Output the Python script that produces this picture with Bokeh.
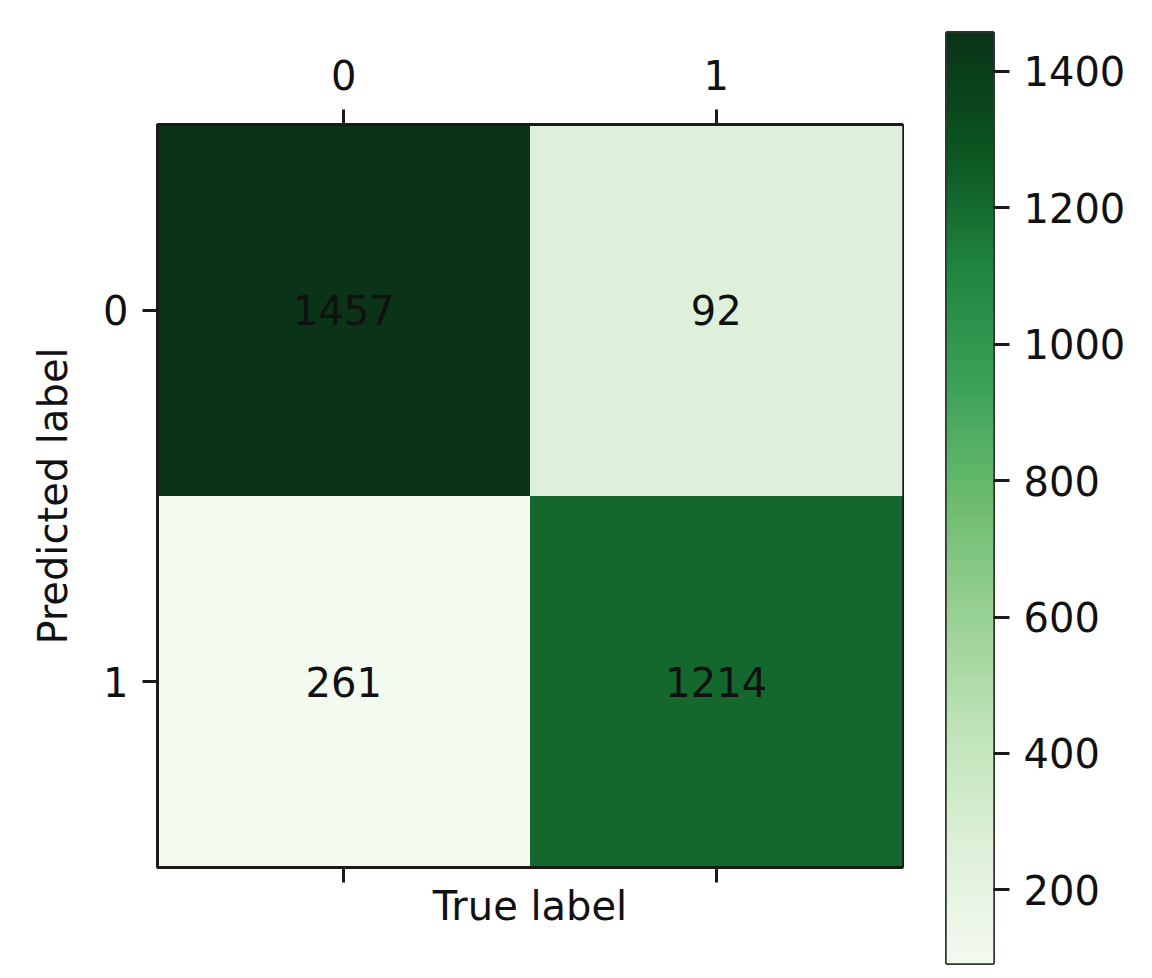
import numpy as np
from bokeh.plotting import figure
from bokeh.layouts import row
from bokeh.models import (ColumnDataSource, LinearColorMapper, LinearAxis, FixedTicker,
                          Range1d)
from bokeh.core.properties import value
from bokeh.embed import file_html
from bokeh.resources import INLINE

# ---- data ----
true_labels = [0, 1]            # columns (x)
pred_labels = [0, 1]            # rows (y)
counts_row0 = [1457, 92]        # numbers written, predicted 0
counts_row1 = [261, 1214]       # numbers written, predicted 1
shade_row0 = [1457, 261]        # values behind the cell colours, row 0
shade_row1 = [92, 1214]         # values behind the cell colours, row 1
cb_ticks = [200, 400, 600, 800, 1000, 1200, 1400]

FONT = "DejaVu Sans"
FS = "40px"
TXT = "#111111"
LINE = "#1a1a1a"

# Greens-like palette tuned to the reference's rendering
anchors = ["#f3faf0", "#ddf0d8", "#bfe3b8", "#98d093", "#6bbb6e",
           "#3aa157", "#20833f", "#0b5520", "#0a3318"]
def _rgb(h):
    return [int(h[i:i + 2], 16) for i in (1, 3, 5)]
A = np.array([_rgb(h) for h in anchors], dtype=float)
pos = np.linspace(0, 1, len(anchors))
tt = np.linspace(0, 1, 256)
pal = ["#%02x%02x%02x" % tuple(int(round(np.interp(t, pos, A[:, k]))) for k in range(3)) for t in tt]

xs, ys, vals, shades = [], [], [], []
for r, rowvals, rowshade in zip(pred_labels, [counts_row0, counts_row1], [shade_row0, shade_row1]):
    for c, v, s in zip(true_labels, rowvals, rowshade):
        xs.append(c); ys.append(r); vals.append(v); shades.append(s)
src = ColumnDataSource(dict(x=xs, y=ys, v=vals, s=shades, t=[str(v) for v in vals]))

low, high = min(shades), max(shades)
mapper = LinearColorMapper(palette=pal, low=low, high=high)

# ---- main matrix ----
p = figure(width=920, height=978, output_backend="svg", toolbar_location=None,
           x_range=Range1d(-0.5, 1.5), y_range=Range1d(1.5, -0.5),
           min_border_left=157, min_border_right=18, min_border_top=124, min_border_bottom=111)
p.frame_align = False
p.rect(x="x", y="y", width=1, height=1, source=src, line_color=None,
       fill_color={"field": "s", "transform": mapper})
p.text(x="x", y="y", text="t", source=src, text_align="center", text_baseline="middle",
       text_font=value(FONT), text_font_size=FS, text_color=TXT)
p.xgrid.visible = False
p.ygrid.visible = False
p.outline_line_color = LINE
p.outline_line_width = 3
p.outline_line_alpha = 1

top = LinearAxis()
p.add_layout(top, "above")

def style(ax):
    ax.ticker = FixedTicker(ticks=true_labels)
    ax.major_tick_out = 15
    ax.major_tick_in = 0
    ax.minor_tick_out = 0
    ax.minor_tick_in = 0
    ax.major_tick_line_width = 3
    ax.major_tick_line_color = LINE
    ax.axis_line_width = 3
    ax.axis_line_color = LINE
    ax.major_label_text_font = FONT
    ax.major_label_text_font_size = FS
    ax.major_label_text_color = TXT
    ax.major_label_standoff = 14
    ax.axis_label_text_font = FONT
    ax.axis_label_text_font_size = FS
    ax.axis_label_text_font_style = "normal"
    ax.axis_label_text_color = TXT

for ax in p.xaxis:
    style(ax)
top.major_label_standoff = 20
bot = p.below[0]
bot.major_label_text_font_size = "1px"
bot.major_label_text_color = None
bot.major_label_standoff = 0
bot.axis_label = "True label"
bot.axis_label_standoff = 0
style(p.yaxis[0])
p.yaxis[0].major_label_orientation = "horizontal"
p.yaxis[0].axis_label = "Predicted label"
p.yaxis[0].axis_label_standoff = 24

# ---- colorbar ----
grad = np.linspace(low, high, 512).reshape(-1, 1)
cb = figure(width=232, height=978, output_backend="svg", toolbar_location=None,
            x_range=Range1d(0, 1), y_range=Range1d(low, high), y_axis_location="right",
            min_border_left=26, min_border_right=159, min_border_top=32, min_border_bottom=15)
cb.frame_align = False
cb.image(image=[grad], x=0, y=low, dw=1, dh=high - low, color_mapper=mapper)
cb.xaxis.visible = False
cb.xgrid.visible = False
cb.ygrid.visible = False
cb.outline_line_color = "#333333"
cb.outline_line_width = 3
cb.outline_line_alpha = 1
ya = cb.yaxis[0]
ya.ticker = FixedTicker(ticks=cb_ticks)
ya.major_tick_out = 16
ya.major_tick_in = 0
ya.minor_tick_out = 0
ya.minor_tick_in = 0
ya.major_tick_line_width = 3
ya.major_tick_line_color = LINE
ya.axis_line_color = None
ya.major_label_text_font = FONT
ya.major_label_text_font_size = FS
ya.major_label_text_color = TXT
ya.major_label_standoff = 14

layout = row(p, cb, spacing=0)
open("out.html", "w").write(file_html(layout, INLINE))
